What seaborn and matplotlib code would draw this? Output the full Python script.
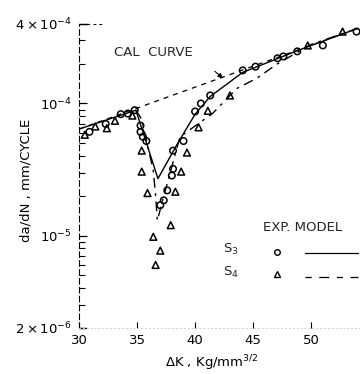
import numpy as np
import pandas as pd
import matplotlib
matplotlib.use("Agg")
import matplotlib.pyplot as plt
from matplotlib.ticker import LogLocator, NullFormatter, FixedLocator
import seaborn as sns

# ---------------- data ----------------
cal_dk = [30.0, 54.0]
cal_rate = [6.4e-5, 3.7e-4]

s3_exp_dk = [30.9, 32.3, 33.6, 34.2, 34.8, 35.3, 35.3, 35.5, 35.8, 37.0, 37.3, 37.6,
             38.0, 38.1, 38.1, 39.0, 40.0, 40.5, 41.3, 44.1, 45.2, 47.1, 47.6, 48.8,
             51.0, 53.9]
s3_exp_rate = [6.1e-5, 7.0e-5, 8.3e-5, 8.4e-5, 8.9e-5, 6.8e-5, 6.1e-5, 5.6e-5, 5.2e-5,
               1.7e-5, 1.85e-5, 2.2e-5, 2.85e-5, 3.2e-5, 4.4e-5, 5.2e-5, 8.7e-5, 1.0e-4,
               1.15e-4, 1.78e-4, 1.9e-4, 2.2e-4, 2.27e-4, 2.48e-4, 2.75e-4, 3.5e-4]

s4_exp_dk = [30.5, 31.4, 32.4, 33.1, 34.6, 35.4, 35.4, 35.9, 36.4, 37.0, 36.6, 37.9,
             38.3, 38.8, 39.3, 40.3, 41.1, 43.0, 49.7, 52.7]
s4_exp_rate = [5.8e-5, 6.7e-5, 6.5e-5, 7.4e-5, 8.1e-5, 4.4e-5, 3.05e-5, 2.1e-5, 9.8e-6,
               7.7e-6, 6.0e-6, 1.2e-5, 2.15e-5, 3.05e-5, 4.25e-5, 6.6e-5, 8.8e-5,
               1.15e-4, 2.75e-4, 3.5e-4]

s3_model_dk = [30.0, 34.9, 36.8, 38.5, 40.0, 41.3, 44.1, 47.0, 49.0, 54.0]
s3_model_rate = [6.4e-5, 8.9e-5, 2.7e-5, 5.0e-5, 8.3e-5, 1.13e-4, 1.72e-4, 2.17e-4,
                 2.55e-4, 3.7e-4]

s4_model_dk = [34.9, 35.4, 36.4, 36.6, 36.75, 37.2, 38.7, 41.5, 43.6, 45.3, 47.1, 50.0, 54.0]
s4_model_rate = [8.9e-5, 7.6e-5, 3.1e-5, 2.0e-5, 1.3e-5, 1.85e-5, 5.6e-5, 8.4e-5,
                 1.3e-4, 1.55e-4, 2.0e-4, 2.8e-4, 3.7e-4]

x_ticks = [30, 35, 40, 45, 50]
y_ticks = [2e-6, 1e-5, 1e-4, 4e-4]
y_tick_labels = [r"$2\times10^{-6}$", r"$10^{-5}$", r"$10^{-4}$", r"$4\times10^{-4}$"]

# ---------------- style ----------------
sns.set_theme(style="white")
plt.rcParams["font.family"] = ["DejaVu Sans"]
plt.rcParams["mathtext.default"] = "regular"
FS = 9.5

fig = plt.figure(figsize=(3.6, 3.74), dpi=100)
ax = fig.add_axes([0.2194, 0.123, 0.7806, 0.813])
ax.set_yscale("log")

# CAL curve
sns.lineplot(x=cal_dk, y=cal_rate, ax=ax, color="black", lw=0.9,
             sort=False, estimator=None)
ax.lines[-1].set_dashes((4, 4))

# model S3 (solid)
sns.lineplot(x=s3_model_dk, y=s3_model_rate, ax=ax, color="black", lw=1.0,
             sort=False, estimator=None)
# model S4 (dash-dot)
sns.lineplot(x=s4_model_dk, y=s4_model_rate, ax=ax, color="black", lw=1.0,
             sort=False, estimator=None)
ax.lines[-1].set_dashes((7, 4, 2, 4))

# experimental points
sns.scatterplot(x=s3_exp_dk, y=s3_exp_rate, ax=ax, marker="o", s=22,
                color="black", linewidth=1.1, zorder=3)
ax.collections[-1].set_facecolor("none")
ax.collections[-1].set_edgecolor("black")
sns.scatterplot(x=s4_exp_dk, y=s4_exp_rate, ax=ax, marker="^", s=24,
                color="black", linewidth=1.1, zorder=3)
ax.collections[-1].set_facecolor("none")
ax.collections[-1].set_edgecolor("black")

ax.set_xlim(30, 54.2)
ax.set_ylim(2e-6, 4e-4)

# ticks
ax.xaxis.set_major_locator(FixedLocator(x_ticks))
ax.set_xticklabels([str(t) for t in x_ticks], fontsize=FS)
ax.yaxis.set_major_locator(FixedLocator(y_ticks))
ax.set_yticklabels(y_tick_labels, fontsize=FS)
ax.yaxis.set_minor_locator(LogLocator(base=10, subs=range(2, 10)))
ax.yaxis.set_minor_formatter(NullFormatter())
ax.tick_params(axis="y", which="major", direction="in", length=6, width=0.9,
               color="black", pad=5, left=True, labelcolor="black")
ax.tick_params(axis="y", which="minor", direction="in", length=4, width=0.8,
               color="black", left=True)
ax.tick_params(axis="x", which="major", direction="in", length=4, width=0.8,
               color="black", pad=4, bottom=True, labelcolor="black")

# spines
for s in ["top", "right"]:
    ax.spines[s].set_visible(False)
ax.spines["left"].set_color("black")
ax.spines["left"].set_linewidth(0.8)
ax.spines["left"].set_linestyle((0, (5, 3)))
ax.spines["bottom"].set_color("#d0d0d0")
ax.spines["bottom"].set_linewidth(0.7)
ax.spines["bottom"].set_linestyle((0, (1, 3)))

# corner decorations
ax.plot([0, 0.035], [1, 1], color="black", lw=0.9, transform=ax.transAxes, clip_on=False)
ax.plot([0.05, 0.09], [1, 1], color="black", lw=0.7, ls=(0, (3, 3)),
        transform=ax.transAxes, clip_on=False)
ax.plot([0, 0.02], [0, 0], color="black", lw=0.9, transform=ax.transAxes, clip_on=False)

# axis labels
ax.set_xlabel(r"$\Delta$K , Kg/mm$^{3/2}$", fontsize=FS, color="black")
ax.xaxis.set_label_coords(0.473, -0.085)
ax.set_ylabel("da/dN , mm/CYCLE", fontsize=FS, color="black")
ax.yaxis.set_label_coords(-0.165, 0.487)

# annotation
ax.annotate("CAL  CURVE", xy=(42.4, 1.55e-4), xytext=(36.4, 2.45e-4),
            fontsize=FS, ha="center", va="center",
            arrowprops=dict(arrowstyle="-|>", color="black", lw=0.8,
                            shrinkA=18, shrinkB=0, mutation_scale=7,
                            relpos=(1.0, 0.5)))

# legend drawn in axes coordinates
T = ax.transAxes
ax.text(0.655, 0.329, "EXP. MODEL", fontsize=FS, ha="left", va="center", transform=T)
ax.text(0.512, 0.257, r"S$_3$", fontsize=FS, ha="left", va="center", transform=T)
ax.text(0.512, 0.184, r"S$_4$", fontsize=FS, ha="left", va="center", transform=T)
ax.plot([0.705], [0.25], marker="o", ms=4, mfc="none", mec="black", mew=1.0,
        ls="none", transform=T)
ax.plot([0.705], [0.178], marker="^", ms=4.5, mfc="none", mec="black", mew=1.0,
        ls="none", transform=T)
ax.plot([0.804, 0.993], [0.247, 0.247], color="black", lw=0.9, transform=T, clip_on=False)
l4, = ax.plot([0.804, 0.993], [0.168, 0.168], color="black", lw=0.9, transform=T,
              clip_on=False)
l4.set_dashes((5, 6, 8, 6))

fig.savefig("out.png", dpi=100)
